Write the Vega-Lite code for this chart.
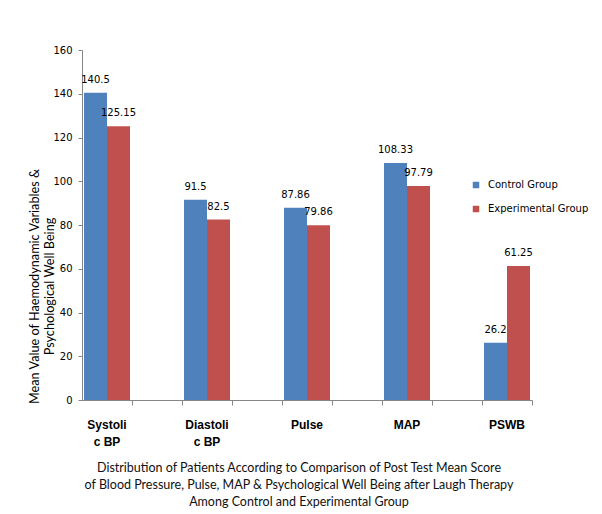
{
  "$schema": "https://vega.github.io/schema/vega-lite/v6.json",
  "autosize": "none",
  "width": 450,
  "height": 350,
  "padding": {"left": 82, "top": 50, "right": 70, "bottom": 114},
  "background": "white",
  "config": {"view": {"stroke": null}},
  "title": {
    "text": ["Distribution of Patients According to Comparison of Post Test Mean Score", "of Blood  Pressure, Pulse, MAP & Psychological  Well Being after Laugh Therapy", "Among Control and Experimental Group"],
    "orient": "bottom",
    "anchor": "middle",
    "font": "Lato",
    "fontSize": 12.5,
    "fontWeight": "normal",
    "color": "#111111",
    "lineHeight": 17,
    "offset": 15,
    "dx": -8
  },
  "data": {
    "values": [
      {"measure": "Systolic BP", "group": "Control Group", "value": 140.5, "label": "140.5"},
      {"measure": "Systolic BP", "group": "Experimental Group", "value": 125.15, "label": "125.15"},
      {"measure": "Diastolic BP", "group": "Control Group", "value": 91.5, "label": "91.5"},
      {"measure": "Diastolic BP", "group": "Experimental Group", "value": 82.5, "label": "82.5"},
      {"measure": "Pulse", "group": "Control Group", "value": 87.86, "label": "87.86"},
      {"measure": "Pulse", "group": "Experimental Group", "value": 79.86, "label": "79.86"},
      {"measure": "MAP", "group": "Control Group", "value": 108.33, "label": "108.33"},
      {"measure": "MAP", "group": "Experimental Group", "value": 97.79, "label": "97.79"},
      {"measure": "PSWB", "group": "Control Group", "value": 26.2, "label": "26.2"},
      {"measure": "PSWB", "group": "Experimental Group", "value": 61.25, "label": "61.25"}
    ]
  },
  "encoding": {
    "x": {
      "field": "measure",
      "type": "nominal",
      "sort": null,
      "scale": {
        "domain": ["Systolic BP", "gap1", "Diastolic BP", "gap2", "Pulse", "gap3", "MAP", "gap4", "PSWB"],
        "paddingInner": 0,
        "paddingOuter": 0
      },
      "axis": {
        "title": null,
        "labelAngle": 0,
        "bandPosition": 1,
        "domainColor": "#868686",
        "tickColor": "#868686",
        "tickSize": 5,
        "labelFont": "Liberation Sans",
        "labelFontSize": 12,
        "labelFontWeight": "bold",
        "labelColor": "#000000",
        "labelPadding": 14,
        "labelLineHeight": 17,
        "labelBaseline": "top",
        "labelExpr": "datum.value == 'Systolic BP' ? ['Systoli', 'c BP'] : datum.value == 'Diastolic BP' ? ['Diastoli', 'c BP'] : (indexof(datum.value, 'gap') == 0 ? '' : datum.value)"
      }
    },
    "xOffset": {
      "field": "group",
      "type": "nominal",
      "scale": {"paddingOuter": 0.087, "paddingInner": 0}
    },
    "y": {
      "field": "value",
      "type": "quantitative",
      "scale": {"domain": [0, 160], "nice": false},
      "axis": {
        "values": [0, 20, 40, 60, 80, 100, 120, 140, 160],
        "grid": false,
        "domainColor": "#868686",
        "tickColor": "#868686",
        "tickSize": 4,
        "labelFont": "DejaVu Sans",
        "labelFontSize": 10,
        "labelColor": "#000000",
        "labelPadding": 6,
        "title": ["Mean Value of Haemodynamic Variables &", "Psychological  Well Being"],
        "titleFont": "Lato",
        "titleFontSize": 12.7,
        "titleFontWeight": "normal",
        "titleColor": "#000000",
        "titleLineHeight": 15,
        "titleY": 236,
        "titlePadding": -4
      }
    }
  },
  "layer": [
    {
      "mark": {"type": "bar"},
      "encoding": {
        "color": {
          "field": "group",
          "type": "nominal",
          "scale": {"domain": ["Control Group", "Experimental Group"], "range": ["#4F81BD", "#C0504D"]},
          "legend": {
            "title": null,
            "orient": "none",
            "legendX": 389,
            "legendY": 130,
            "symbolType": "square",
            "symbolSize": 42,
            "labelFont": "DejaVu Sans",
            "labelFontSize": 10,
            "labelColor": "#000000",
            "labelOffset": 7,
            "rowPadding": 14
          }
        }
      }
    },
    {
      "mark": {"type": "text", "baseline": "bottom", "dy": -8, "font": "DejaVu Sans", "fontSize": 10, "color": "#000000"},
      "encoding": {
        "text": {"field": "label", "type": "nominal"}
      }
    }
  ]
}
